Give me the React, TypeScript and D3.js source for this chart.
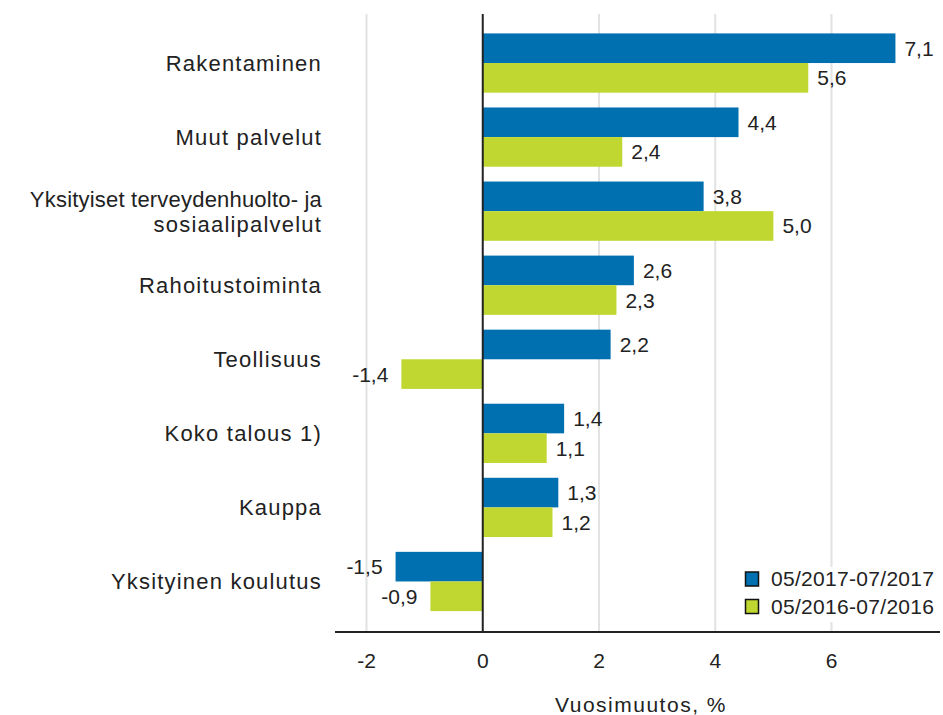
import React from "react";
import * as d3 from "d3";

const categories: string[][] = [
  ["Rakentaminen"],
  ["Muut palvelut"],
  ["Yksityiset terveydenhuolto- ja", "sosiaalipalvelut"],
  ["Rahoitustoiminta"],
  ["Teollisuus"],
  ["Koko talous 1)"],
  ["Kauppa"],
  ["Yksityinen koulutus"],
];
const series = ["05/2017-07/2017", "05/2016-07/2016"];
const values2017 = [7.1, 4.4, 3.8, 2.6, 2.2, 1.4, 1.3, -1.5];
const values2016 = [5.6, 2.4, 5.0, 2.3, -1.4, 1.1, 1.2, -0.9];
const xTicks = [-2, 0, 2, 4, 6];
const axisTitle = "Vuosimuutos, %";

const colors = ["#0070B0", "#BFD730"];
const W = 943;
const H = 715;
const FONT = "'Liberation Sans', Arial, sans-serif";
const TEXT = "#222";

export default function App() {
  const x = d3.scaleLinear().domain([-2, 6]).range([366.5, 831.5]);
  const xLeft = 335;
  const xRight = 940;
  const axisY = 632;
  const plotTop = 14;

  const keys = categories.map((_, i) => String(i));
  const y = d3
    .scaleBand<string>()
    .domain(keys)
    .range([26, 618.5])
    .paddingInner(0.2)
    .paddingOuter(0.1);
  const ys = d3.scaleBand<string>().domain(series).range([0, y.bandwidth()]);
  const data = [values2017, values2016];
  const fmt = (v: number) => d3.format(".1f")(v).replace(".", ",").replace("−", "-");

  return (
    <svg
      width={W}
      height={H}
      style={{ position: "absolute", left: 0, top: 0, background: "#fff" }}
      fontFamily={FONT}
    >
      <rect x={0} y={0} width={W} height={H} fill="#fff" />
      {xTicks
        .filter((t) => t !== 0)
        .map((t) => (
          <line
            key={"g" + t}
            x1={x(t)}
            x2={x(t)}
            y1={plotTop}
            y2={axisY}
            stroke="#e2e2e2"
            strokeWidth={2}
          />
        ))}
      {keys.map((k, i) =>
        series.map((s, j) => {
          const v = data[j][i];
          const x0 = Math.min(x(0), x(v));
          const w = Math.abs(x(v) - x(0));
          const by = (y(k) as number) + (ys(s) as number);
          const bh = ys.bandwidth();
          return (
            <g key={k + s}>
              <rect x={x0} y={by} width={w} height={bh} fill={colors[j]} />
              <text
                x={v >= 0 ? x(v) + 9 : x(v) - 13}
                y={by + bh / 2 + 7.5}
                textAnchor={v >= 0 ? "start" : "end"}
                fontSize={21}
                fill={TEXT}
              >
                {fmt(v)}
              </text>
            </g>
          );
        })
      )}
      <line x1={x(0)} x2={x(0)} y1={plotTop} y2={axisY} stroke="#222" strokeWidth={2} />
      <line x1={xLeft} x2={xRight} y1={axisY} y2={axisY} stroke="#222" strokeWidth={2} />
      {keys.map((k, i) => {
        const lines = categories[i];
        const cy = (y(k) as number) + y.bandwidth() / 2;
        return (
          <text key={"c" + k} textAnchor="end" fontSize={22} fill={TEXT}>
            {lines.map((ln, li) => (
              <tspan
                key={li}
                x={322}
                y={cy + 8 + (li - (lines.length - 1) / 2) * 25}
                letterSpacing={lines.length > 1 && li === 0 ? 0.2 : 1.2}
              >
                {ln}
              </tspan>
            ))}
          </text>
        );
      })}
      {xTicks.map((t) => (
        <text
          key={"t" + t}
          x={x(t)}
          y={668}
          textAnchor="middle"
          fontSize={21}
          fill={TEXT}
        >
          {String(t).replace("−", "-")}
        </text>
      ))}
      <text x={641} y={712} textAnchor="middle" fontSize={21} letterSpacing={1.5} fill={TEXT}>
        {axisTitle}
      </text>
      <rect x={737} y={567} width={203} height={55} fill="#fff" />
      {series.map((s, j) => (
        <g key={"l" + s}>
          <rect
            x={745.5}
            y={572 + j * 27.5}
            width={13}
            height={14}
            fill={colors[j]}
            stroke="#111"
            strokeWidth={1.5}
          />
          <text x={771} y={586 + j * 27.5} fontSize={21} letterSpacing={0.3} fill={TEXT}>
            {s}
          </text>
        </g>
      ))}
    </svg>
  );
}
